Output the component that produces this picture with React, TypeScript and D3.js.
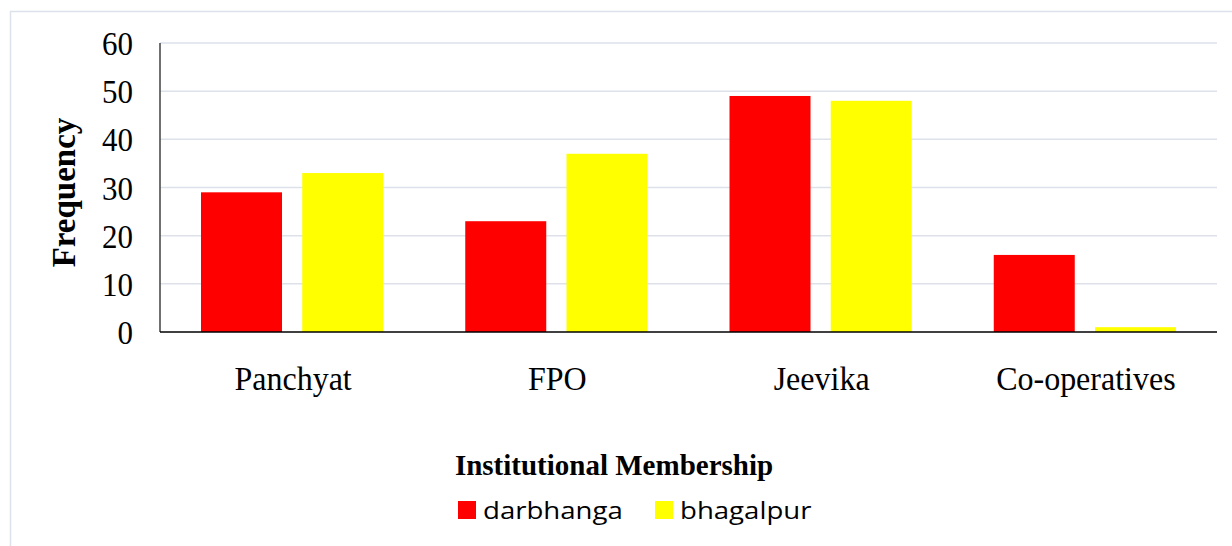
import React from 'react';
import * as d3 from 'd3';

const categories = ['Panchyat', 'FPO', 'Jeevika', 'Co-operatives'];
const seriesNames = ['darbhanga', 'bhagalpur'];
const darbhanga = [29, 23, 49, 16];
const bhagalpur = [33, 37, 48, 1];
const yTicks = [0, 10, 20, 30, 40, 50, 60];
const colors = ['#ff0000', '#ffff00'];

const serif = "'Liberation Serif', 'Times New Roman', serif";

// text with a small stretch, the source image is not quite square
function Label({ x, y, sx = 1, sy = 1, anchor = 'start', size, bold = false, family = serif, children }: any) {
  return (
    <text
      transform={`translate(${x},${y}) scale(${sx},${sy})`}
      textAnchor={anchor}
      fontFamily={family}
      fontSize={size}
      fontWeight={bold ? 'bold' : 'normal'}
      fill="#000"
    >
      {children}
    </text>
  );
}

export default function App() {
  const width = 1232;
  const height = 546;
  const margin = { top: 43, right: 15, bottom: 214, left: 160 };
  const innerWidth = width - margin.left - margin.right;
  const innerHeight = height - margin.top - margin.bottom;

  const x = d3.scaleBand().domain(categories).range([0, innerWidth]).paddingInner(0).paddingOuter(0);
  const inner = d3.scaleBand().domain(seriesNames).range([41, x.bandwidth() - 41]).paddingInner(0.2);
  const y = d3.scaleLinear().domain([0, 60]).range([innerHeight, 0]);
  const series = [darbhanga, bhagalpur];

  return (
    <svg width={width} height={height} style={{ position: 'absolute', left: 0, top: 0, background: '#fff' }}>
      <rect x={10.5} y={11.5} width={width} height={height} fill="none" stroke="#dde2ea" strokeWidth={1.5} />
      <g transform={`translate(${margin.left},${margin.top})`}>
        {yTicks.filter(t => t > 0).map(t => (
          <line key={t} x1={0} x2={innerWidth} y1={y(t)} y2={y(t)} stroke="#dde1e9" strokeWidth={1.5} />
        ))}
        {categories.map((c, i) => (
          <g key={c} transform={`translate(${x(c)},0)`}>
            {series.map((s, j) => (
              <rect key={j} x={inner(seriesNames[j])} y={y(s[i])} width={inner.bandwidth()} height={innerHeight - y(s[i])} fill={colors[j]} />
            ))}
            <Label x={x.bandwidth() / 2 + 1} y={innerHeight + 58} anchor="middle" size={32} sy={1.08}>{c}</Label>
          </g>
        ))}
        <line x1={0} x2={0} y1={0} y2={innerHeight} stroke="#404040" strokeWidth={1.5} />
        <line x1={0} x2={innerWidth} y1={innerHeight} y2={innerHeight} stroke="#000" strokeWidth={1.5} />
        {yTicks.map(t => (
          <Label key={t} x={-27} y={y(t) + 12} anchor="end" size={31} sy={1.12}>{t}</Label>
        ))}
        <text transform={`translate(${-85},${innerHeight / 2 + 5}) rotate(-90)`} textAnchor="middle" fontFamily={serif} fontWeight="bold" fontSize={33} fill="#000">Frequency</text>
      </g>
      <Label x={614} y={475} anchor="middle" size={29} bold>Institutional Membership</Label>
      {seriesNames.map((n, j) => (
        <g key={n} transform={`translate(${458 + j * 197},501)`}>
          <rect x={0} y={0} width={18} height={18} fill={colors[j]} />
          <Label x={25} y={18} size={23} sx={1.2} family="'Open Sans', sans-serif">{n}</Label>
        </g>
      ))}
    </svg>
  );
}
